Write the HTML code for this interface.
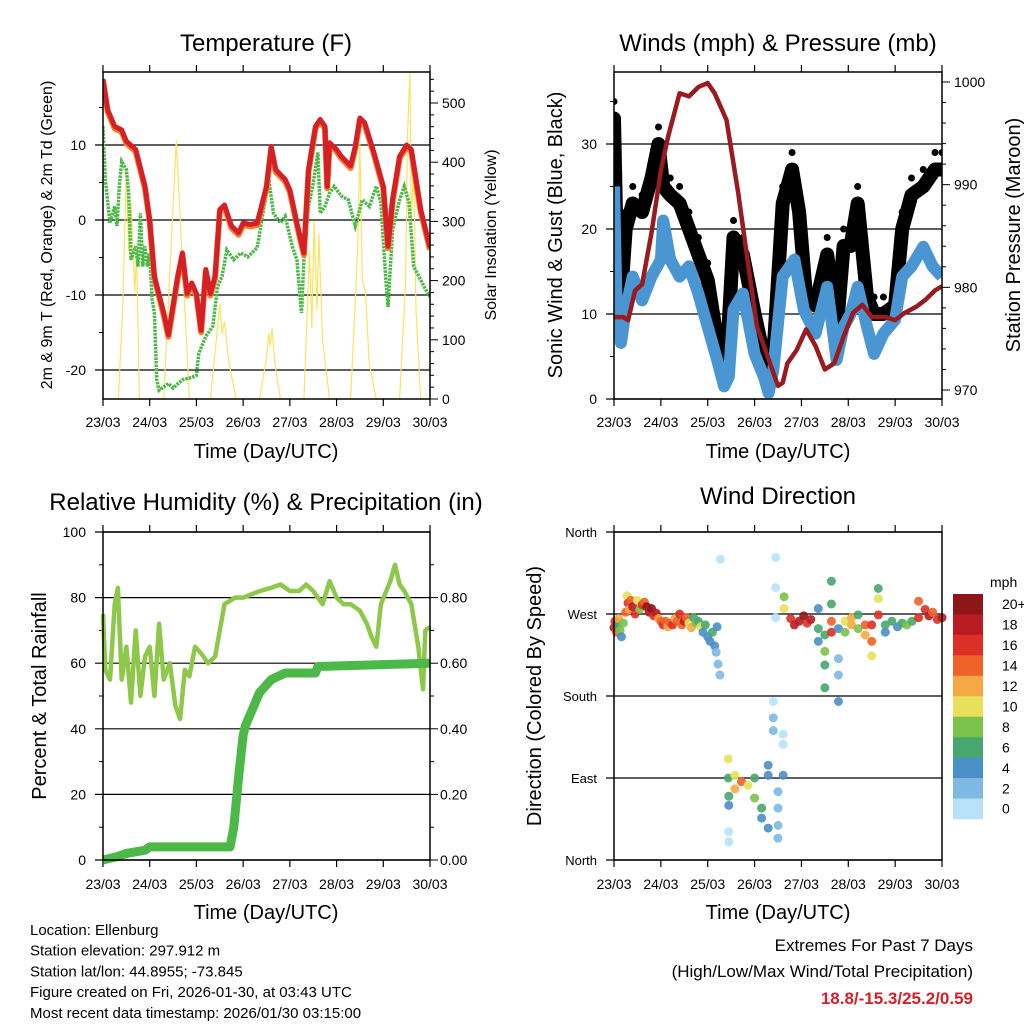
<!DOCTYPE html>
<html><head><meta charset="utf-8"><style>
body{margin:0;background:#fff}
svg text{font-family:"Liberation Sans",sans-serif;fill:#000}
</style></head><body>
<svg id="s" width="1024" height="1024" viewBox="0 0 1024 1024" xmlns="http://www.w3.org/2000/svg"></svg>
<script>
const dayLabels=["23/03","24/03","25/03","26/03","27/03","28/03","29/03","30/03"];
// Temperature (F)
const tempT=[0,0.1,0.25,0.4,0.5,0.7,0.9,1.0,1.1,1.3,1.4,1.6,1.7,1.8,1.9,2.0,2.1,2.2,2.3,2.4,2.5,2.6,2.75,2.9,3.0,3.15,3.3,3.5,3.6,3.7,3.9,4.0,4.15,4.3,4.4,4.55,4.65,4.75,4.8,4.85,5.0,5.1,5.3,5.4,5.5,5.6,5.8,6.0,6.1,6.2,6.35,6.5,6.6,6.8,7.0];
const tempV=[18.8,14.7,12.5,12,10.5,9.4,4.5,0,-7.5,-12.4,-15.3,-7.5,-4.4,-9.8,-8.4,-9.8,-14.7,-6.6,-9.8,-7.5,1.4,2,-0.8,-1.7,-0.4,-0.6,-0.4,4.5,9.8,6.7,5.4,4,-0.4,-4.4,6.7,12.5,13.4,12.5,4.5,10.3,9.4,8.5,7.2,9.8,13.6,13,9,4.5,-3.5,2.7,8.5,10,9.4,1.4,-3.7];
const dewT=[0,0.05,0.15,0.25,0.3,0.35,0.4,0.5,0.55,0.6,0.7,0.75,0.8,0.85,0.9,0.95,1.0,1.05,1.1,1.15,1.2,1.4,1.5,1.7,1.9,2.0,2.05,2.2,2.35,2.45,2.55,2.65,2.8,2.95,3.1,3.3,3.4,3.55,3.65,3.8,3.9,4.05,4.15,4.25,4.3,4.4,4.5,4.6,4.65,4.75,4.85,4.95,5.1,5.25,5.4,5.55,5.7,5.85,5.95,6.05,6.1,6.2,6.35,6.45,6.55,6.65,6.8,6.95,7.0];
const dewV=[12.5,5.4,-0.4,1.8,-0.8,4.5,7.8,6.7,3.6,-5.3,-3.5,-6.2,0.9,-6.2,-3.5,-6.2,-4.4,-10.6,-12.4,-21.3,-22.7,-21.8,-22.4,-21.3,-21,-20.7,-17.8,-15.5,-14.2,-8.9,-7.5,-4,-5.3,-4.4,-4.9,-3.7,0,5.4,0.9,-0.4,0.5,-3.5,-5.3,-12.4,-5.3,1.8,4.9,9,0.9,1.8,3.6,4.5,3.2,2.7,-0.8,2.7,1.8,4.5,2.3,-7.5,-11.6,-1.3,2.7,4.5,2.3,-6.2,-8,-9.8,-10.2];
const solT=[0,0.33,0.42,0.5,0.55,0.6,0.68,0.72,0.78,1.3,1.57,1.85,2.3,2.45,2.5,2.55,2.6,2.7,2.85,3.35,3.5,3.55,3.58,3.62,3.68,3.8,4.3,4.42,4.47,4.52,4.58,4.62,4.7,4.85,5.3,5.45,5.5,5.55,5.62,5.7,5.85,6.35,6.48,6.52,6.57,6.6,6.65,6.7,6.8,7.0];
const solV=[0,0,150,390,250,330,180,250,0,0,437,0,0,120,160,110,130,60,0,0,70,110,90,120,60,0,0,250,120,300,150,280,100,0,0,250,430,200,180,60,0,0,200,450,550,300,400,150,0,0];
// Winds (mph) & pressure (mb)
const windT=[0,0.05,0.15,0.25,0.4,0.6,0.8,1.0,1.05,1.2,1.4,1.6,1.8,2.0,2.2,2.35,2.45,2.55,2.75,3.0,3.2,3.3,3.4,3.6,3.85,4.05,4.3,4.55,4.75,4.9,5.05,5.2,5.4,5.55,5.75,6.0,6.15,6.35,6.6,6.8,7.0];
const windV=[25,12.4,6.6,10.5,14.4,11.6,14.4,16.4,21,16.4,14.4,15.6,12.4,8.5,4.6,1.5,2.6,10.5,12.4,5.3,2.6,0.7,3.4,14.4,16.4,10.5,7.7,13.2,4.6,8.5,10,13.2,8.5,5.3,7.7,9.3,14.4,15.6,17.9,15.6,14.4];
const gustT=[0,0.05,0.15,0.25,0.4,0.6,0.8,0.95,1.05,1.2,1.4,1.6,1.8,2.0,2.2,2.35,2.45,2.55,2.75,3.0,3.2,3.3,3.4,3.6,3.8,3.95,4.1,4.3,4.55,4.75,4.9,5.05,5.2,5.4,5.55,5.75,6.0,6.15,6.35,6.6,6.85,7.0];
const gustV=[33,20,12,20,23,22,26,30,25,24,23,20,17,14,7,4,9,19,17,10,5,2,5,23,27,22,12,11,17,8,18,18,23,12,10,10,11,20,24,25,27,27];
const presT=[0,0.2,0.3,0.45,0.6,0.8,1.0,1.15,1.4,1.6,1.8,2.0,2.15,2.4,2.65,2.85,3.05,3.3,3.5,3.6,3.7,3.9,4.1,4.3,4.5,4.7,4.9,5.1,5.3,5.5,5.8,6.0,6.2,6.45,6.65,6.85,7.0];
const presV=[977.1,977.1,976.8,979.7,980.3,985.3,991.4,994.6,998.9,998.6,999.5,999.9,998.9,996.3,989.2,982.7,976.2,973,970.4,970.7,972.6,973.9,975.9,974.3,972,972.6,975.2,977.5,978.3,977.1,977.1,976.8,977.5,978.1,978.8,979.7,980.1];
// RH (%) & precipitation (in)
const rhT=[0,0.05,0.15,0.25,0.32,0.4,0.5,0.6,0.7,0.8,0.9,1.0,1.1,1.2,1.3,1.43,1.55,1.65,1.75,1.85,1.97,2.1,2.25,2.4,2.5,2.6,2.83,3.0,3.36,3.6,3.8,4.0,4.2,4.35,4.5,4.7,4.85,5.0,5.15,5.3,5.5,5.65,5.75,5.85,5.95,6.15,6.25,6.35,6.45,6.6,6.75,6.85,6.9,7.0];
const rhV=[75,58,55,78,83,55,65,48,70,50,62,65,50,72,55,60,47,43,58,56,65,63,60,62,70,78,80,80,82,83,84,82,82,84,82,78,85,80,78,78,76,72,68,65,78,85,90,84,82,78,65,52,70,71];
const prT=[0,0.3,0.5,0.9,1.0,2.72,2.8,2.9,3.0,3.05,3.2,3.35,3.6,3.9,4.55,4.6,7.0];
const prV=[0,0.01,0.02,0.03,0.04,0.04,0.1,0.25,0.38,0.41,0.46,0.51,0.55,0.57,0.57,0.59,0.6];
// Wind direction (deg) and speed (mph)
const dirT=[0,0.02,0.05,0.08,0.1,0.13,0.16,0.2,0.25,0.28,0.3,0.33,0.36,0.4,0.45,0.5,0.55,0.6,0.65,0.7,0.75,0.8,0.85,0.9,0.95,1.0,1.05,1.1,1.15,1.2,1.25,1.3,1.35,1.4,1.45,1.5,1.55,1.6,1.65,1.7,1.75,1.8,1.85,1.9,1.95,2.0,2.05,2.1,2.15,2.18,2.2,2.22,2.26,2.27,
2.44,2.44,2.45,2.45,2.45,2.45,2.58,2.58,2.72,2.86,3.0,3.0,3.15,3.15,3.29,3.29,3.29,3.4,3.4,3.4,3.5,3.5,3.5,3.5,3.61,3.61,3.61,3.45,3.45,3.45,
3.63,3.63,3.77,3.85,3.95,4.05,4.12,4.2,4.36,4.36,4.36,4.5,4.5,4.5,4.5,4.64,4.64,4.64,4.64,4.79,4.79,4.79,4.79,4.93,4.93,5.07,5.07,5.21,5.21,5.36,5.36,5.5,5.5,5.5,5.64,5.64,5.64,5.79,5.79,5.93,6.05,6.15,6.25,6.36,6.5,6.5,6.64,6.72,6.8,6.9,7.0];
const dirD=[255,262,250,258,265,252,245,260,272,290,282,275,285,278,270,285,275,280,283,278,272,276,268,271,265,262,258,262,256,260,258,265,262,270,258,262,266,260,255,266,260,262,256,250,258,245,240,250,235,228,256,215,203,330,
111,90,70,60,31,20,93,78,86,82,90,68,57,46,35,104,93,174,156,142,75,57,38,24,138,127,93,332,299,266,
289,276,265,258,262,268,260,264,276,254,240,247,229,214,189,306,281,262,250,254,221,203,174,262,250,266,258,269,254,258,247,258,240,224,287,269,298,258,250,262,256,260,258,262,284,266,275,268,272,264,266];
const dirS=[18,16,14,6,12,8,4,7,14,10,16,12,14,18,16,10,8,16,14,20,18,20,16,18,12,14,16,14,12,14,16,12,14,16,14,18,14,10,12,6,8,6,10,4,6,4,4,6,4,2,4,2,2,0,
10,6,6,4,0,0,10,12,14,10,6,8,6,4,4,4,4,0,2,2,2,2,2,2,0,0,4,0,0,0,
8,10,16,18,18,20,16,18,4,6,4,6,8,6,6,6,6,14,16,4,2,2,4,10,8,12,12,6,8,14,12,16,14,10,10,16,6,6,4,6,4,6,8,6,14,16,16,18,14,16,18];
const cbLabels=["20+","18","16","14","12","10","8","6","4","2","0"];
const cbColors=["#8e1518","#b81c22","#db3025","#ef6229","#f6a844","#e6e05a","#7bc24b","#48a66f","#4a8fc6","#7eb9e3","#b8e2f7"];

const NS="http://www.w3.org/2000/svg";
const svg=document.getElementById('s');
function el(tag,attrs,parent,txt){const e=document.createElementNS(NS,tag);for(const k in attrs)e.setAttribute(k,attrs[k]);if(txt!==undefined)e.textContent=txt;(parent||svg).appendChild(e);return e;}
function lin(d0,d1,r0,r1){return v=>r0+(v-d0)*(r1-r0)/(d1-d0);}
function pathOf(T,V,sx,sy){return T.map((t,i)=>(i?'L':'M')+sx(t).toFixed(1)+','+sy(V[i]).toFixed(1)).join('');}
function text(x,y,s,opts,name){const t=el('text',Object.assign({x:x,y:y,'font-size':14},opts||{}),svg,s);return t;}
function frame(name){
  const g=el('g',{});
  return g;
}
function xAxis(g,x0,x1,y0,y1,labY){
  const sx=lin(0,7,x0,x1);
  dayLabels.forEach((d,i)=>{
    const x=sx(i);
    el('line',{x1:x,x2:x,y1:y1,y2:y1+7,stroke:'#000','stroke-width':1.2},g);
    el('line',{x1:x,x2:x,y1:y0,y2:y0-7,stroke:'#000','stroke-width':1.2},g);
    const t=el('text',{x:x,y:labY,'font-size':14,'text-anchor':'middle'},g,d);
    
  });
  return sx;
}
function box(g,x0,x1,y0,y1){el('rect',{x:x0,y:y0,width:x1-x0,height:y1-y0,fill:'none',stroke:'#000','stroke-width':1.5},g);}

// ---------- Panel 1: Temperature ----------
(function(){
  const X0=103,X1=430,Y0=72,Y1=399;
  const g=frame('temperature-panel');
  const sx=xAxis(g,X0,X1,Y0,Y1,427);
  const sy=lin(0,20,220,70);
  const sr=lin(0,500,399,103);
  [10,0,-10,-20].forEach(v=>{el('line',{x1:X0-8,x2:X1,y1:sy(v),y2:sy(v),stroke:'#000','stroke-width':1.2},g);
    const t=el('text',{x:86,y:sy(v)+5,'font-size':14,'text-anchor':'end'},g,String(v));});
  [15,5,-5,-15].forEach(v=>el('line',{x1:X0-4,x2:X0,y1:sy(v),y2:sy(v),stroke:'#000'},g));
  for(let v=0;v<=540;v+=20){const M=v%100===0;el('line',{x1:X1,x2:X1+(M?8:4),y1:sr(v),y2:sr(v),stroke:'#000'},g);
    if(M){const t=el('text',{x:X1+12,y:sr(v)+5,'font-size':14},g,String(v));}}
  const cl=el('clipPath',{id:'c1'});el('rect',{x:X0,y:Y0,width:X1-X0,height:Y1-Y0},cl);
  const p=el('g',{'clip-path':'url(#c1)'},g);
  const sol=el('path',{d:pathOf(solT,solV,sx,sr),fill:'none',stroke:'#fbe35e','stroke-width':1.2},p);
  const dew=el('path',{d:pathOf(dewT,dewV,sx,sy),fill:'none',stroke:'#4cb848','stroke-width':3.5,'stroke-dasharray':'2.5 1'},p);
  const or=el('path',{d:pathOf(tempT,tempV,sx,sy),fill:'none',stroke:'#f57f29','stroke-width':6,transform:'translate(0,2)','stroke-linejoin':'round'},p);
  const rd=el('path',{d:pathOf(tempT,tempV,sx,sy),fill:'none',stroke:'#d62027','stroke-width':5,'stroke-linejoin':'round'},p);
  box(g,X0,X1,Y0,Y1);
  text(266,51,'Temperature (F)',{'font-size':24,'text-anchor':'middle'},'temperature-title');
  text(266,458,'Time (Day/UTC)',{'font-size':20,'text-anchor':'middle'},'temperature-x-title');
  text(0,0,'2m & 9m T (Red, Orange) & 2m Td (Green)',{'font-size':16,'text-anchor':'middle',transform:'translate(52,235) rotate(-90)'},'temperature-y-title');
  text(0,0,'Solar Insolation (Yellow)',{'font-size':16,'text-anchor':'middle',transform:'translate(496,235) rotate(-90)'},'solar-y-title');
})();

// ---------- Panel 2: Winds ----------
(function(){
  const X0=614,X1=942,Y0=72,Y1=399;
  const g=frame('winds-panel');
  const sx=xAxis(g,X0,X1,Y0,Y1,427);
  const sy=lin(0,30,399,144);
  const sp=lin(970,1000,390,82);
  [0,10,20,30].forEach(v=>{el('line',{x1:X0-8,x2:X1,y1:sy(v),y2:sy(v),stroke:'#000','stroke-width':1.2},g);
    const t=el('text',{x:597,y:sy(v)+5,'font-size':14,'text-anchor':'end'},g,String(v));});
  [5,15,25,35].forEach(v=>el('line',{x1:X0-4,x2:X0,y1:sy(v),y2:sy(v),stroke:'#000'},g));
  for(let v=970;v<=1000;v+=2){const M=v%10===0;el('line',{x1:X1,x2:X1+(M?8:4),y1:sp(v),y2:sp(v),stroke:'#000'},g);
    if(M){const t=el('text',{x:X1+12,y:sp(v)+5,'font-size':14},g,String(v));}}
  const cl=el('clipPath',{id:'c2'});el('rect',{x:X0,y:Y0-2,width:X1-X0,height:Y1-Y0+2},cl);
  const p=el('g',{'clip-path':'url(#c2)'},g);
  const gp=el('path',{d:pathOf(gustT,gustV,sx,sy),fill:'none',stroke:'#000','stroke-width':14,'stroke-linejoin':'round','stroke-linecap':'round'},p);
  gustT.forEach((t,i)=>{const c=el('circle',{cx:sx(t),cy:sy(gustV[i]+2),r:3.5,fill:'#000'},p);});
  const wb=el('path',{d:pathOf(windT,windV,sx,sy),fill:'none',stroke:'#4a96d2','stroke-width':12,'stroke-linejoin':'round'},p);
  const pr=el('path',{d:pathOf(presT,presV,sx,sp),fill:'none',stroke:'#9a1b1f','stroke-width':4.5,'stroke-linejoin':'round'},p);
  box(g,X0,X1,Y0,Y1);
  text(778,51,'Winds (mph) & Pressure (mb)',{'font-size':24,'text-anchor':'middle'},'winds-title');
  text(778,458,'Time (Day/UTC)',{'font-size':20,'text-anchor':'middle'},'winds-x-title');
  text(0,0,'Sonic Wind & Gust (Blue, Black)',{'font-size':20,'text-anchor':'middle',transform:'translate(562,235) rotate(-90)'},'winds-y-title');
  text(0,0,'Station Pressure (Maroon)',{'font-size':20,'text-anchor':'middle',transform:'translate(1020,235) rotate(-90)'},'pressure-y-title');
})();

// ---------- Panel 3: RH & precip ----------
(function(){
  const X0=103,X1=430,Y0=532,Y1=860;
  const g=frame('humidity-panel');
  const sx=xAxis(g,X0,X1,Y0,Y1,889);
  const sy=lin(0,100,860,532);
  const sr=lin(0,1,860,532);
  [0,20,40,60,80,100].forEach(v=>{el('line',{x1:X0-8,x2:X1,y1:sy(v),y2:sy(v),stroke:'#000','stroke-width':1.2},g);
    const t=el('text',{x:86,y:sy(v)+5,'font-size':14,'text-anchor':'end'},g,String(v));});
  [10,30,50,70,90].forEach(v=>el('line',{x1:X0-4,x2:X0,y1:sy(v),y2:sy(v),stroke:'#000'},g));
  [0,0.2,0.4,0.6,0.8].forEach(v=>{el('line',{x1:X1,x2:X1+8,y1:sr(v),y2:sr(v),stroke:'#000'},g);
    const t=el('text',{x:X1+10,y:sr(v)+5,'font-size':14},g,v.toFixed(2));});
  for(let v=0.1;v<1;v+=0.2)el('line',{x1:X1,x2:X1+4,y1:sr(v),y2:sr(v),stroke:'#000'},g);
  const cl=el('clipPath',{id:'c3'});el('rect',{x:X0-5,y:Y0,width:X1-X0+10,height:Y1-Y0+5},cl);
  const p=el('g',{'clip-path':'url(#c3)'},g);
  const rh=el('path',{d:pathOf(rhT,rhV,sx,sy),fill:'none',stroke:'#8dc84b','stroke-width':4.5,'stroke-linejoin':'round'},p);
  const pc=el('path',{d:pathOf(prT,prV,sx,sr),fill:'none',stroke:'#4cb848','stroke-width':9,'stroke-linejoin':'round'},p);
  box(g,X0,X1,Y0,Y1);
  text(266,510,'Relative Humidity (%) & Precipitation (in)',{'font-size':24,'text-anchor':'middle'},'humidity-title');
  text(266,919,'Time (Day/UTC)',{'font-size':20,'text-anchor':'middle'},'humidity-x-title');
  text(0,0,'Percent & Total Rainfall',{'font-size':20,'text-anchor':'middle',transform:'translate(46,696) rotate(-90)'},'humidity-y-title');
})();

// ---------- Panel 4: Wind direction ----------
(function(){
  const X0=614,X1=942,Y0=532,Y1=860;
  const g=frame('wind-direction-panel');
  const sx=xAxis(g,X0,X1,Y0,Y1,889);
  const sy=lin(0,360,860,532);
  const names=['North','East','South','West','North'];
  [0,90,180,270,360].forEach((v,i)=>{el('line',{x1:X0-8,x2:X1,y1:sy(v),y2:sy(v),stroke:'#000','stroke-width':1.2},g);
    const t=el('text',{x:597,y:sy(v)+5,'font-size':13,'text-anchor':'end'},g,names[i]);});
  dirT.forEach((t,i)=>{const k=Math.max(0,10-Math.min(10,Math.round(dirS[i]/2)));
    const c=el('circle',{cx:sx(t),cy:sy(dirD[i]),r:4.5,fill:cbColors[k],'fill-opacity':0.9},g);
    });
  box(g,X0,X1,Y0,Y1);
  const bh=20.45;
  cbLabels.forEach((l,i)=>{const r=el('rect',{x:953,y:594+i*bh,width:30,height:bh+0.3,fill:cbColors[i]},g);
    
    const t=el('text',{x:1002,y:594+i*bh+bh/2+5,'font-size':14},g,l);});
  text(990,587,'mph',{'font-size':14},'colorbar-title');
  text(778,504,'Wind Direction',{'font-size':24,'text-anchor':'middle'},'wind-direction-title');
  text(778,919,'Time (Day/UTC)',{'font-size':20,'text-anchor':'middle'},'wind-direction-x-title');
  text(0,0,'Direction (Colored By Speed)',{'font-size':20,'text-anchor':'middle',transform:'translate(541,696) rotate(-90)'},'wind-direction-y-title');
})();

// ---------- Footer ----------
const info=["Location: Ellenburg","Station elevation: 297.912 m","Station lat/lon: 44.8955; -73.845","Figure created on Fri, 2026-01-30, at 03:43 UTC","Most recent data timestamp: 2026/01/30 03:15:00"];
info.forEach((s,i)=>text(30,935+i*20.7,s,{'font-size':15},'station-info-line'));
text(973,951,'Extremes For Past 7 Days',{'font-size':17,'text-anchor':'end'},'extremes-title');
text(973,977,'(High/Low/Max Wind/Total Precipitation)',{'font-size':17,'text-anchor':'end'},'extremes-subtitle');
text(973,1004,'18.8/-15.3/25.2/0.59',{'font-size':17,'text-anchor':'end','font-weight':'bold',fill:'#d62027',style:'fill:#d62027'},'extremes-values');
</script>
</body></html>
